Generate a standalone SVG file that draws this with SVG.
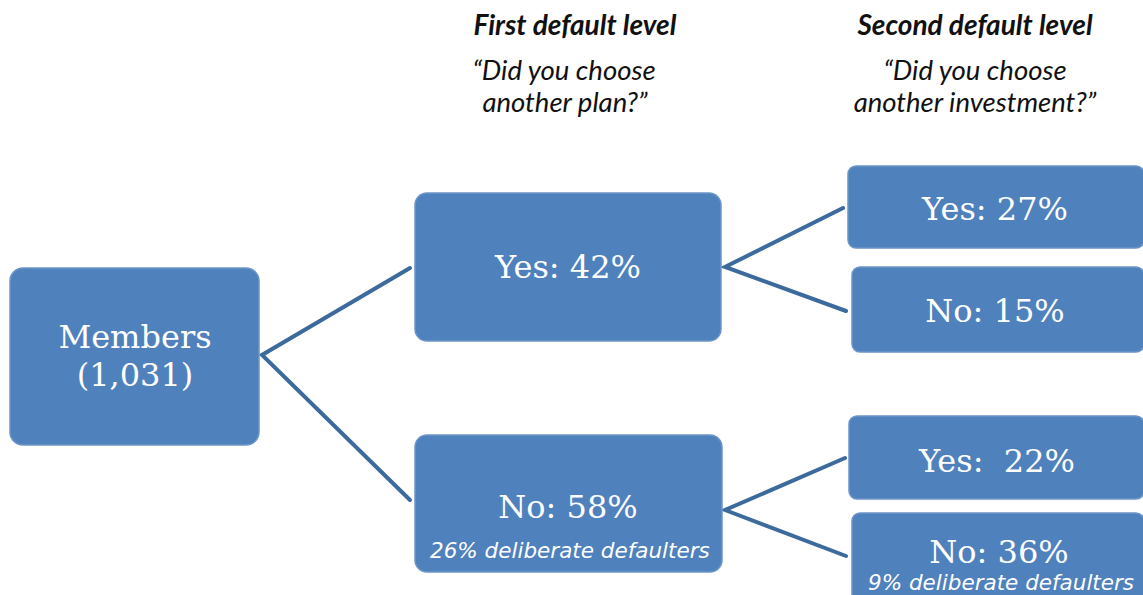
<svg xmlns="http://www.w3.org/2000/svg" width="1143" height="595" viewBox="0 0 1143 595">
  <style>
    .box { fill: #4f81bd; stroke: #6d95c8; stroke-width: 1.5; }
    .lbl { font-family: "DejaVu Serif", "Liberation Serif", serif; font-size: 32px; fill: #ffffff; text-anchor: middle; }
    .note { font-family: "DejaVu Sans", "Liberation Sans", sans-serif; font-style: italic; font-size: 21.5px; fill: #ffffff; }
    .head { font-family: "Lato", "Liberation Sans", sans-serif; font-weight: bold; font-style: italic; font-size: 28px; fill: #111111; text-anchor: middle; }
    .q { font-family: "Lato", "Liberation Sans", sans-serif; font-style: italic; font-size: 27.5px; fill: #111111; text-anchor: middle; }
    .link { fill: none; stroke: #3d6a9c; stroke-width: 4; stroke-linecap: round; }
  </style>

  <rect width="1143" height="595" fill="#ffffff"/>

  <!-- column headings -->
  <g id="heading-first">
    <text class="head" x="575" y="35">First default level</text>
    <text class="q" x="564" y="80">“Did you choose</text>
    <text class="q" x="565" y="112">another plan?”</text>
  </g>
  <g id="heading-second">
    <text class="head" x="975" y="35">Second default level</text>
    <text class="q" x="975" y="80">“Did you choose</text>
    <text class="q" x="975" y="112">another investment?”</text>
  </g>

  <!-- branch lines -->
  <g id="connectors">
    <polyline class="link" points="410,268 262,355 410,500"/>
    <polyline class="link" points="843,208 725,267 846,311"/>
    <polyline class="link" points="845,458 725,510 846,556"/>
  </g>

  <g id="members">
    <rect class="box" x="10" y="268" width="249" height="177" rx="13"/>
    <text class="lbl" x="135" y="348">Members</text>
    <text class="lbl" x="135" y="386">(1,031)</text>
  </g>

  <g id="plan-yes">
    <rect class="box" x="415" y="193" width="306" height="148" rx="12"/>
    <text class="lbl" x="568" y="278">Yes: 42%</text>
  </g>

  <g id="plan-no">
    <rect class="box" x="415" y="435" width="307" height="137" rx="12"/>
    <text class="lbl" x="568" y="518">No: 58%</text>
    <text class="note" x="430" y="558">26% deliberate defaulters</text>
  </g>

  <g id="invest-yes-a">
    <rect class="box" x="848" y="166" width="296" height="82" rx="8"/>
    <text class="lbl" x="995" y="220">Yes: 27%</text>
  </g>

  <g id="invest-no-a">
    <rect class="box" x="852" y="267" width="292" height="85" rx="8"/>
    <text class="lbl" x="995" y="322">No: 15%</text>
  </g>

  <g id="invest-yes-b">
    <rect class="box" x="849" y="416" width="295" height="83" rx="8"/>
    <text class="lbl" x="997" y="472" xml:space="preserve">Yes:  22%</text>
  </g>

  <g id="invest-no-b">
    <rect class="box" x="852" y="513" width="292" height="90" rx="8"/>
    <text class="lbl" x="999" y="563">No: 36%</text>
    <text class="note" x="868" y="590">9% deliberate defaulters</text>
  </g>
</svg>
